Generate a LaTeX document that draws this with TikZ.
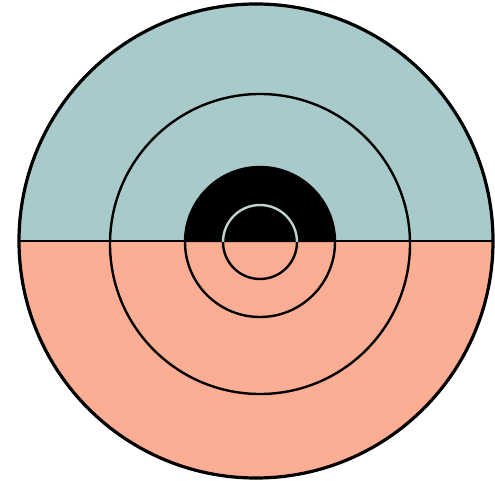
\documentclass[tikz,border=0pt]{standalone}
\definecolor{topc}{RGB}{169,202,202}
\definecolor{botc}{RGB}{252,174,148}
\definecolor{ringc}{RGB}{190,210,210}
\tikzset{ring/.style={draw=black,line width=2.4pt}}
\begin{document}
\begin{tikzpicture}[x=1pt,y=1pt]
\useasboundingbox (0,0) rectangle (495,-481);
\coordinate (O) at (256,-241);
\coordinate (C) at (260,-242);
\coordinate (M) at (260,-244);
% halves of outer disk
\fill[topc] ([xshift=-238pt]O) arc[start angle=180,end angle=0,radius=238] -- cycle;
\fill[botc] ([xshift=-238pt]O) arc[start angle=180,end angle=360,radius=238] -- cycle;
% black upper half disk
\fill[black] ([xshift=-75pt]C) arc[start angle=180,end angle=0,radius=75] -- cycle;
% dividing line
\coordinate (L) at ([xshift=-238pt]O);
\coordinate (R) at ([xshift=238pt]O);
\draw[black,line width=2.4pt] (L) -- (R);
% rings
\draw[ring] (M) circle[radius=150];
\draw[ring] (C) circle[radius=75];
\draw[draw=ringc,line width=2.4pt] ([xshift=-37pt]C) arc[start angle=180,end angle=0,radius=37];
\draw[ring] ([xshift=-37pt]C) arc[start angle=180,end angle=360,radius=37];
% outer circle
\draw[black,line width=3.2pt] (O) circle[radius=237];
\end{tikzpicture}
\end{document}
